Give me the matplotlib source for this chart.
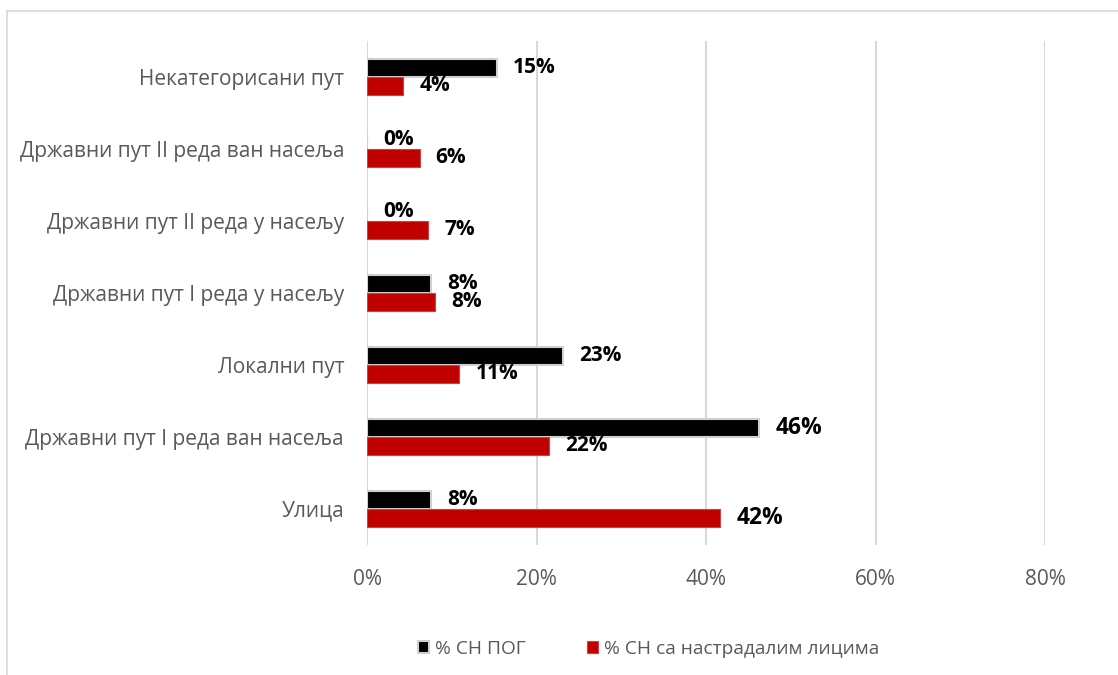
import matplotlib.pyplot as plt
import numpy as np
from matplotlib.patches import Rectangle

# data (bottom to top)
categories = ['Улица', 'Државни пут I реда ван насеља', 'Локални пут',
              'Државни пут I реда у насељу', 'Државни пут II реда у насељу',
              'Државни пут II реда ван насеља', 'Некатегорисани пут']
pog = [7.6, 46.3, 23.1, 7.6, 0.0, 0.0, 15.3]
nastradali = [41.7, 21.5, 10.9, 8.0, 7.2, 6.2, 4.3]
pog_labels = ['8%', '46%', '23%', '8%', '0%', '0%', '15%']
nastradali_labels = ['42%', '22%', '11%', '8%', '7%', '6%', '4%']
series_names = ['% СН ПОГ', '% СН са настрадалим лицима']

plt.rcParams['font.family'] = ['Open Sans', 'DejaVu Sans']

fig = plt.figure(figsize=(11.18, 6.75), dpi=100)
ax = fig.add_axes([0.3283, 0.1926, 0.6064, 0.7467])

y = np.arange(len(categories))
h = 0.25
b1 = ax.barh(y + h / 2, pog, height=h, color='black', edgecolor='#d0d0d0',
             linewidth=1.5, label=series_names[0], zorder=3)
b2 = ax.barh(y - h / 2, nastradali, height=h, color='#c00000', edgecolor='#d04040',
             linewidth=0.8, label=series_names[1], zorder=3)

# data labels, bigger font for the two largest
for i in range(len(categories)):
    fs1 = 16.5 if pog[i] > 40 else 15
    fs2 = 16.5 if nastradali[i] > 40 else 15
    ax.annotate(pog_labels[i], (pog[i], y[i] + h / 2), xytext=(11.5, 0),
                textcoords='offset points', ha='left', va='center',
                fontsize=fs1, fontweight='bold', color='black')
    ax.annotate(nastradali_labels[i], (nastradali[i], y[i] - h / 2), xytext=(11.5, 0),
                textcoords='offset points', ha='left', va='center',
                fontsize=fs2, fontweight='bold', color='black')

ax.set_xlim(0, 80)
ax.set_ylim(-0.5, len(categories) - 0.5)
ax.set_xticks([0, 20, 40, 60, 80])
ax.set_xticklabels(['0%', '20%', '40%', '60%', '80%'])
ax.set_yticks(y)
ax.set_yticklabels(categories)
ax.tick_params(axis='both', length=0, labelsize=15, labelcolor='#595959')
ax.tick_params(axis='x', pad=17)
ax.tick_params(axis='y', pad=16.5)
ax.grid(axis='x', color='#d9d9d9', linewidth=1.5, zorder=0)
for s in ax.spines.values():
    s.set_visible(False)

ax.legend(loc='center', bbox_to_anchor=(0.58, 0.0385), bbox_transform=fig.transFigure,
          ncol=2, frameon=False, fontsize=13.8, labelcolor='#595959',
          handlelength=0.6, handleheight=0.6, handletextpad=0.3, columnspacing=3.2)

# chart border
fig.patches.append(Rectangle((0.0063, -0.05), 1.2, 0.9837 + 0.05, transform=fig.transFigure,
                             fill=False, edgecolor='#d9d9d9', linewidth=1.2))

fig.savefig('out.png', dpi=100)
